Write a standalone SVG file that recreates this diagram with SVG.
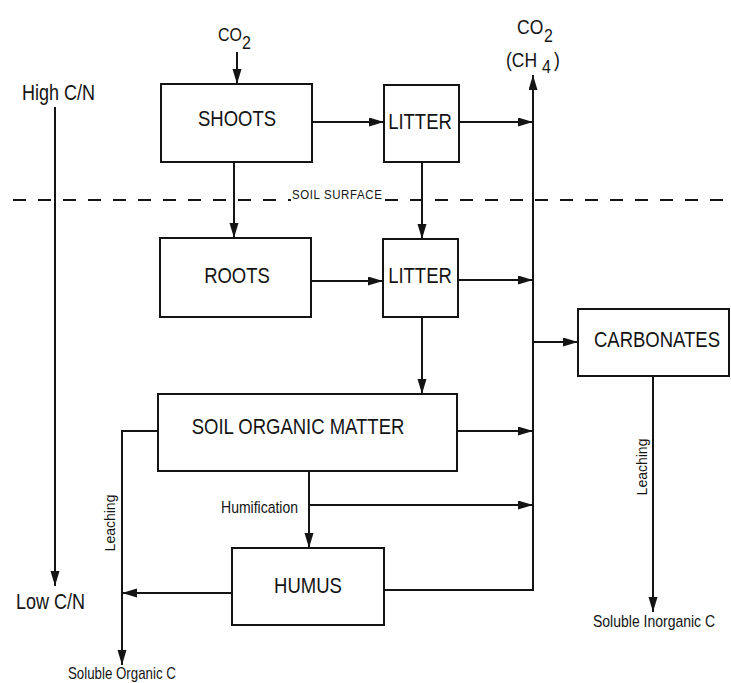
<svg xmlns="http://www.w3.org/2000/svg" width="731" height="683" viewBox="0 0 731 683">
<defs>
<style>
.box{fill:#fff;stroke:#141414;stroke-width:2}
.ln{fill:none;stroke:#141414;stroke-width:2}
.arr{fill:none;stroke:#141414;stroke-width:2;marker-end:url(#ah)}
.dash{fill:none;stroke:#141414;stroke-width:2;stroke-dasharray:13 12}
text{font-family:"Liberation Sans",Arial,sans-serif;fill:#141414}
.lbl{font-size:18.5px;text-anchor:middle}
.side{font-size:18px}
.chem{font-size:16px}
.chem2{font-size:17.5px}
.sm{font-size:14px}
.xs{font-size:11.5px}
</style>
<marker id="ah" markerUnits="userSpaceOnUse" markerWidth="16" markerHeight="10" refX="15" refY="4.5" orient="auto">
<path d="M0,0 L15,4.5 L0,9 z" fill="#141414"/>
</marker>
</defs>
<rect width="731" height="683" fill="#fff"/>

<g id="connectors">
<line class="arr" x1="55" y1="107" x2="55" y2="586"/>
<line class="arr" x1="237" y1="52" x2="237" y2="84"/>
<line class="arr" x1="312" y1="122" x2="384" y2="122"/>
<line class="arr" x1="459" y1="122" x2="533" y2="122"/>
<line class="arr" x1="234" y1="162" x2="234" y2="238"/>
<line class="arr" x1="422" y1="162" x2="422" y2="239"/>
<line class="arr" x1="311" y1="281" x2="383" y2="281"/>
<line class="arr" x1="458" y1="280" x2="533" y2="280"/>
<line class="arr" x1="533" y1="590" x2="533" y2="75"/>
<line class="arr" x1="533" y1="342" x2="578" y2="342"/>
<line class="arr" x1="422" y1="317" x2="422" y2="394"/>
<line class="arr" x1="457" y1="431" x2="533" y2="431"/>
<polyline class="arr" points="158,431 122,431 122,665"/>
<line class="arr" x1="309" y1="471" x2="309" y2="548"/>
<line class="arr" x1="309" y1="505" x2="533" y2="505"/>
<line class="arr" x1="232" y1="593" x2="122" y2="593"/>
<line class="ln" x1="384" y1="590" x2="534" y2="590"/>
<line class="arr" x1="653" y1="376" x2="653" y2="612"/>
</g>

<g id="soil-surface">
<line class="dash" x1="13" y1="200" x2="291" y2="200"/>
<line class="dash" x1="385" y1="200" x2="731" y2="200"/>
<text class="xs" transform="translate(292,199) scale(1,1.18)" letter-spacing="0.6">SOIL SURFACE</text>
</g>

<g id="cn-labels">
<text class="side" transform="translate(22,100) scale(1,1.18)">High C/N</text>
<text class="side" transform="translate(16,609) scale(1,1.18)">Low C/N</text>
</g>

<g id="co2-in">
<text class="chem" transform="translate(218,41) scale(1,1.18)">CO</text>
<text class="chem" transform="translate(242,49) scale(1,1.18)">2</text>
</g>

<g id="co2-out">
<text class="chem2" transform="translate(517,34) scale(1,1.18)">CO</text>
<text class="chem" transform="translate(544,42) scale(1,1.18)">2</text>
<text class="chem2" transform="translate(506,67) scale(1,1.18)">(CH</text>
<text class="chem" transform="translate(542,73) scale(1,1.18)">4</text>
<text class="chem2" transform="translate(554,67) scale(1,1.18)">)</text>
</g>

<g id="shoots">
<rect class="box" x="161" y="84" width="151" height="78"/>
<text class="lbl" transform="translate(237,126) scale(1,1.18)">SHOOTS</text>
</g>

<g id="litter-top">
<rect class="box" x="384" y="85" width="75" height="77"/>
<text class="lbl" transform="translate(420,129) scale(1,1.18)">LITTER</text>
</g>

<g id="roots">
<rect class="box" x="160" y="238" width="151" height="79"/>
<text class="lbl" transform="translate(237,283) scale(1,1.18)">ROOTS</text>
</g>

<g id="litter-bottom">
<rect class="box" x="383" y="239" width="75" height="78"/>
<text class="lbl" transform="translate(420,283) scale(1,1.18)">LITTER</text>
</g>

<g id="carbonates">
<rect class="box" x="578" y="309" width="151" height="67"/>
<text class="lbl" transform="translate(657,347) scale(1,1.18)">CARBONATES</text>
</g>

<g id="soil-organic-matter">
<rect class="box" x="158" y="394" width="299" height="77"/>
<text class="lbl" transform="translate(298,434) scale(1,1.18)">SOIL ORGANIC MATTER</text>
</g>

<g id="humus">
<rect class="box" x="232" y="548" width="152" height="77"/>
<text class="lbl" transform="translate(308,593) scale(1,1.18)">HUMUS</text>
</g>

<g id="flow-labels">
<text class="sm" text-anchor="end" transform="translate(298,513) scale(1,1.18)">Humification</text>
<text class="sm" text-anchor="middle" transform="translate(115,523) rotate(-90)">Leaching</text>
<text class="sm" text-anchor="middle" transform="translate(647,467) rotate(-90)">Leaching</text>
<text style="font-size:13.3px" transform="translate(68,679) scale(1,1.18)">Soluble Organic C</text>
<text class="sm" transform="translate(593,627) scale(1,1.18)">Soluble Inorganic C</text>
</g>
</svg>
